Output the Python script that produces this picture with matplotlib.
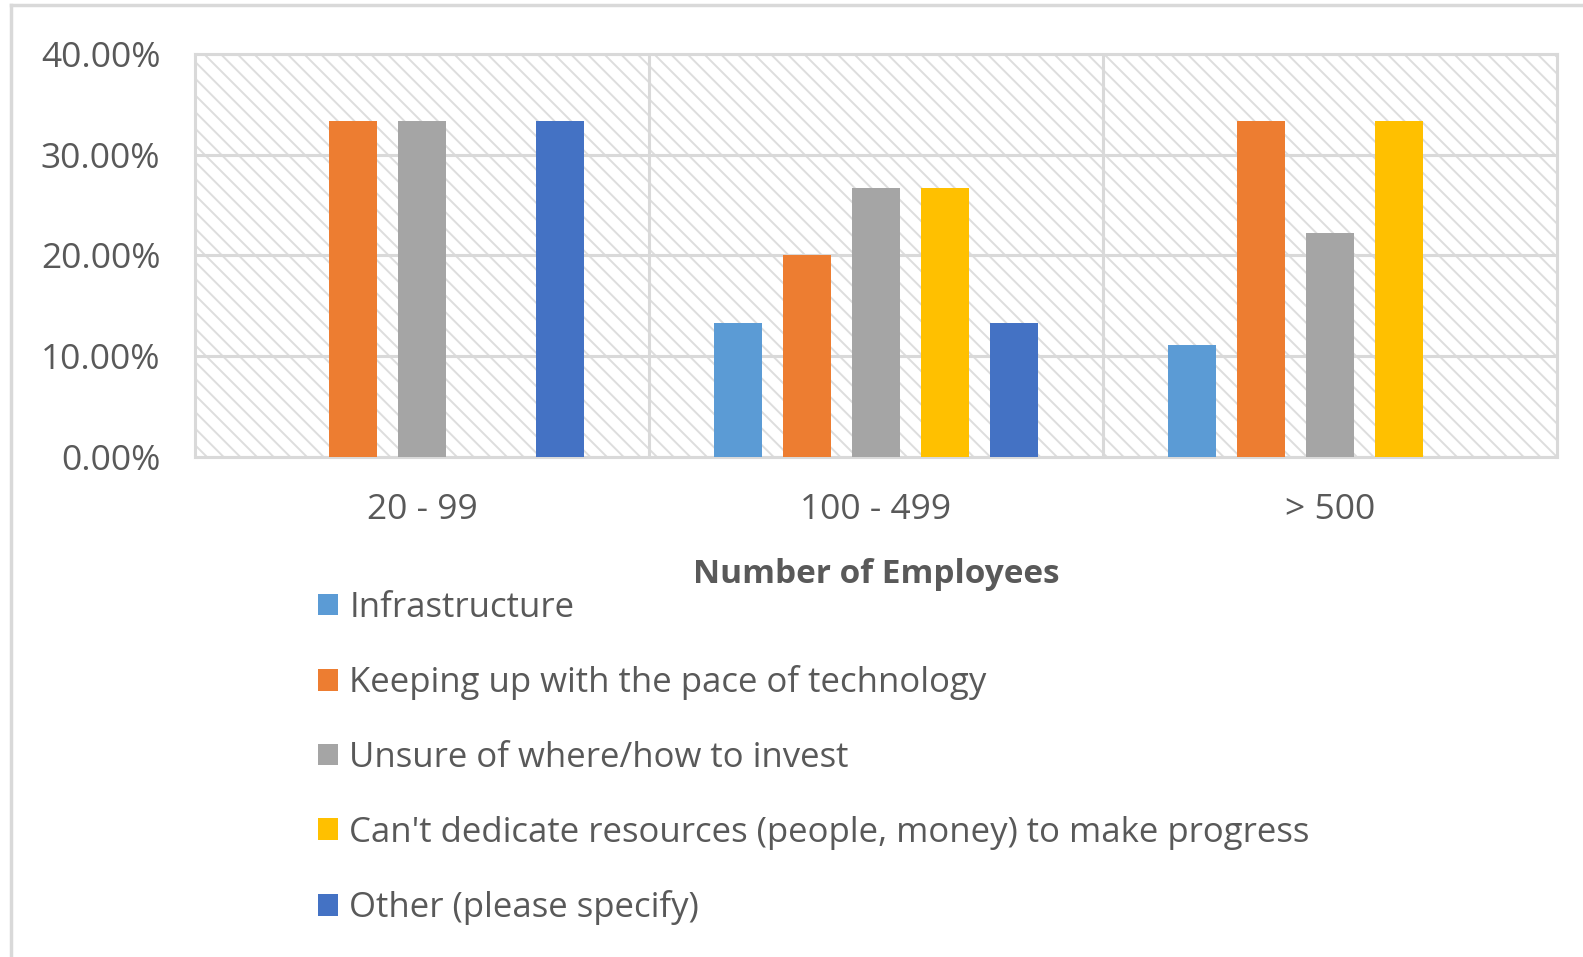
import numpy as np
import matplotlib
matplotlib.use("Agg")
import matplotlib.pyplot as plt
from matplotlib.lines import Line2D
from matplotlib.ticker import FuncFormatter

plt.rcParams["font.family"] = ["Open Sans", "DejaVu Sans"]
plt.rcParams["hatch.linewidth"] = 1.4

# data
groups = ["20 - 99", "100 - 499", "> 500"]
series = [
    "Infrastructure",
    "Keeping up with the pace of technology",
    "Unsure of where/how to invest",
    "Can't dedicate resources (people, money) to make progress",
    "Other (please specify)",
]
infrastructure = [0.0, 0.1333, 0.1111]
keeping_up = [0.3333, 0.20, 0.3333]
unsure = [0.3333, 0.2667, 0.2222]
cant_dedicate = [0.0, 0.2667, 0.3333]
other = [0.3333, 0.1333, 0.0]
values = [infrastructure, keeping_up, unsure, cant_dedicate, other]
colors = ["#5B9BD5", "#ED7D31", "#A5A5A5", "#FFC000", "#4472C4"]

text_col = "#595959"
grid_col = "#D9D9D9"

fig = plt.figure(figsize=(15.83, 9.57), dpi=100)
ax = fig.add_axes([0.1232, 0.5225, 0.8604, 0.4211])

# hatched plot area
ax.patch.set_facecolor("white")
ax.patch.set_edgecolor("#DDDDDD")
ax.patch.set_hatch("\\\\")
ax.patch.set_linewidth(0)

x = np.arange(len(groups))
width = 0.106
step = 0.152
for i, (name, vals, c) in enumerate(zip(series, values, colors)):
    ax.bar(x + (i - 2) * step, vals, width, color=c, label=name, zorder=3)

ax.set_xlim(-0.5, 2.5)
ax.set_ylim(0, 0.40)
ax.set_yticks([0, 0.1, 0.2, 0.3, 0.4])
ax.yaxis.set_major_formatter(FuncFormatter(lambda v, p: f"{v * 100:.2f}%"))
ax.set_xticks(x)
ax.set_xticklabels(groups)

ax.grid(axis="y", color=grid_col, linewidth=2.2, zorder=1)
for b in [0.5, 1.5]:
    ax.axvline(b, color=grid_col, linewidth=2.2, zorder=1)
ax.set_axisbelow(True)
for s in ax.spines.values():
    s.set_color(grid_col)
    s.set_linewidth(2.2)

ax.tick_params(axis="both", length=0, labelsize=25.5, labelcolor=text_col)
ax.tick_params(axis="y", pad=25)
ax.tick_params(axis="x", pad=26)
ax.set_xlabel("Number of Employees", fontsize=24, fontweight="bold",
              color=text_col, labelpad=22)

leg = fig.legend(loc="upper left", bbox_to_anchor=(0.2008, 0.3828),
                 frameon=False, fontsize=25, labelcolor=text_col,
                 handlelength=0.58, handleheight=0.58, handletextpad=0.33,
                 labelspacing=1.17, borderaxespad=0, borderpad=0)

# outer chart border (top and left)
fig.add_artist(Line2D([0.007, 1.0], [0.9945, 0.9945], transform=fig.transFigure,
                      color=grid_col, linewidth=2.5))
fig.add_artist(Line2D([0.0068, 0.0068], [0.0, 0.9945], transform=fig.transFigure,
                      color=grid_col, linewidth=2.5))

fig.savefig("out.png", dpi=100)
